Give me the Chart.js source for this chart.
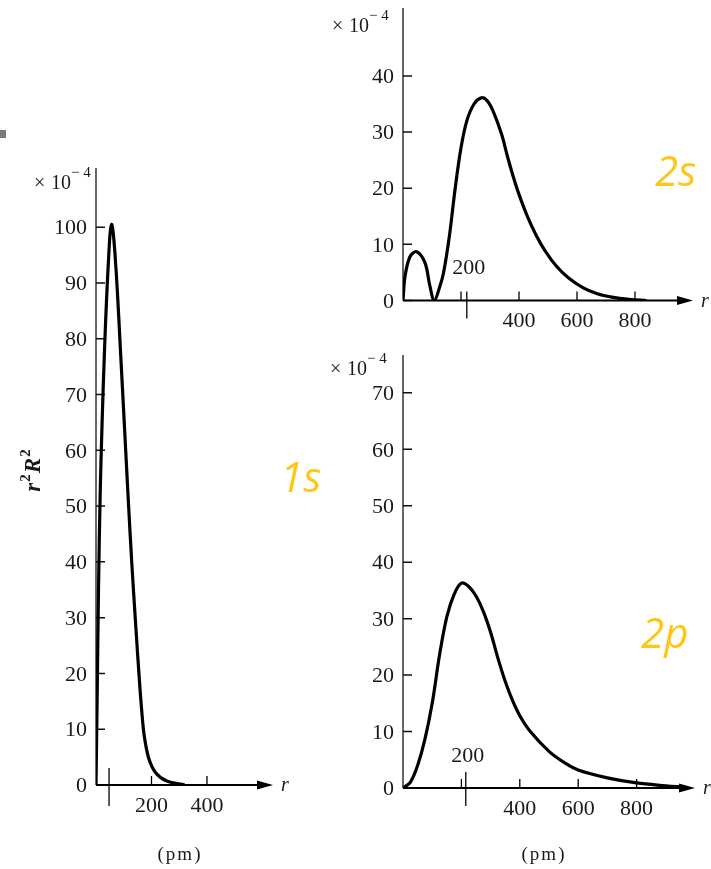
<!DOCTYPE html>
<html>
<head>
<meta charset="utf-8">
<script src="https://cdn.jsdelivr.net/npm/chart.js@4.4.0/dist/chart.umd.min.js"></script>
<style>
  body { margin: 0; background: #fff; }
  #wrap { position: relative; width: 711px; height: 869px; overflow: hidden; }
  canvas { position: absolute; left: 0; top: 0; }
  #dot { position: absolute; left: 0; top: 130px; width: 6px; height: 8px; background: #7a7a7a; }
</style>
</head>
<body>
<div id="wrap">
  <div id="dot"></div>
  <canvas id="c1s" width="711" height="869"></canvas>
  <canvas id="c2s" width="711" height="869"></canvas>
  <canvas id="c2p" width="711" height="869"></canvas>
</div>
<script>
// radial distribution r^2 R^2 (x10^-4) against r (pm)
const r1s = [0, 4, 9, 15, 22, 30, 38, 46, 52, 57, 62, 68, 77, 86.5, 96, 106.5, 117, 129, 142, 155, 165, 174, 190, 215, 255, 320];
const v1s = [0, 15, 35, 52, 65, 77, 87, 95, 99.5, 100.5, 99, 95.5, 88.5, 79.5, 70.5, 60.5, 50.5, 39.8, 29.5, 19.8, 13.2, 8.8, 4.8, 2.2, 0.7, 0];

const r2s = [0, 7, 24, 47, 76, 93, 108, 127, 140, 160, 180, 200, 220, 245, 270, 290, 310, 340, 360, 380, 400, 430, 460, 490, 530, 570, 620, 670, 720, 780, 840];
const v2s = [0, 4.3, 7.8, 8.7, 6.7, 2.5, 0, 2.5, 5, 11.5, 20, 27.2, 32, 35, 36.1, 35.6, 33.8, 29.6, 25.7, 22.1, 18.9, 14.85, 11.55, 8.85, 6.05, 4.05, 2.3, 1.2, 0.6, 0.2, 0];

const r2p = [0, 25, 50, 75, 100, 125, 150, 175, 200, 225, 250, 275, 300, 325, 350, 375, 400, 436, 500, 550, 600, 700, 800, 900, 960];
const v2p = [0, 1, 4, 8.6, 15, 23.5, 30.3, 34.3, 36.3, 35.7, 34, 31.3, 27.6, 23, 18.9, 15.5, 12.8, 10, 6.5, 4.6, 3.2, 1.8, 0.9, 0.4, 0.15];

// tick values and labels
const yTicks1s = [0, 10, 20, 30, 40, 50, 60, 70, 80, 90, 100];
const yTicks2s = [0, 10, 20, 30, 40];
const yTicks2p = [0, 10, 20, 30, 40, 50, 60, 70];
const xTicks1s = [200, 400];
const xTicks2 = [200, 400, 600, 800];
const xLabelsBelow1s = [200, 400];
const xLabelsBelow2 = [400, 600, 800];
const xLabelAbove2 = [200];

const SERIF = '"Liberation Serif", "DejaVu Serif", serif';

const deco = {
  id: 'deco',
  beforeDatasetsDraw(chart, args, o) {
    const {ctx, scales: {x, y}} = chart;
    const x0 = x.getPixelForValue(0), y0 = y.getPixelForValue(0);
    ctx.save();
    // vertical axis
    ctx.strokeStyle = '#333';
    ctx.lineWidth = 1.5;
    ctx.beginPath();
    ctx.moveTo(x0, y.top);
    ctx.lineTo(x0, y0);
    ctx.stroke();
    // y tick marks (inside)
    ctx.strokeStyle = '#111';
    ctx.beginPath();
    o.yTicks.forEach(v => {
      const py = y.getPixelForValue(v);
      ctx.moveTo(x0, py);
      ctx.lineTo(x0 + 9, py);
    });
    ctx.stroke();
    // horizontal axis with arrow
    ctx.lineWidth = 2.2;
    ctx.strokeStyle = '#000';
    ctx.beginPath();
    ctx.moveTo(x0, y0);
    ctx.lineTo(x.right - 10, y0);
    ctx.stroke();
    ctx.fillStyle = '#000';
    ctx.beginPath();
    ctx.moveTo(x.right, y0);
    ctx.lineTo(x.right - 16, y0 - 4.5);
    ctx.lineTo(x.right - 16, y0 + 4.5);
    ctx.closePath();
    ctx.fill();
    // x tick marks
    ctx.lineWidth = 1.3;
    ctx.beginPath();
    o.xTicks.forEach(v => {
      const px = x.getPixelForValue(v);
      ctx.moveTo(px, y0);
      ctx.lineTo(px, y0 - 9);
    });
    const pl = x.getPixelForValue(o.longTick);
    ctx.moveTo(pl, y0 - o.longUp);
    ctx.lineTo(pl, y0 + o.longDown);
    ctx.stroke();
    ctx.restore();
  },
  afterDatasetsDraw(chart, args, o) {
    const {ctx, scales: {x, y}} = chart;
    const x0 = x.getPixelForValue(0), y0 = y.getPixelForValue(0);
    ctx.save();
    ctx.fillStyle = '#1a1a1a';
    ctx.font = '22px ' + SERIF;
    ctx.textAlign = 'right';
    ctx.textBaseline = 'middle';
    o.yTicks.forEach(v => ctx.fillText(String(v), x0 - 9, y.getPixelForValue(v) + 1.5));
    ctx.textAlign = 'center';
    o.below.forEach(v => ctx.fillText(String(v), x.getPixelForValue(v), y0 + 21));
    o.above.forEach(v => ctx.fillText(String(v), x.getPixelForValue(o.longTick) + 2, y0 - 32));
    // multiplier
    ctx.textAlign = 'left';
    ctx.textBaseline = 'alphabetic';
    const mx = x0 - o.multX, my = y.top + o.multY;
    ctx.font = '20px ' + SERIF;
    ctx.fillText('\u00d7', mx, my);
    ctx.fillText('10', mx + 17, my);
    ctx.font = '15px ' + SERIF;
    ctx.fillText('\u2212 4', mx + 37, my - 12);
    // r at arrow
    ctx.font = 'italic 20px ' + SERIF;
    ctx.textBaseline = 'middle';
    ctx.fillText('r', x.right + 8, y0 + 1);
    // (pm)
    if (o.pmX) {
      ctx.font = '19px ' + SERIF;
      ctx.textAlign = 'center';
      ctx.letterSpacing = '2px';
      ctx.fillText('(pm)', o.pmX, 855);
      ctx.letterSpacing = '0px';
    }
    // y title
    if (o.yTitle) {
      ctx.save();
      ctx.translate(40, 470);
      ctx.rotate(-Math.PI / 2);
      ctx.textAlign = 'left';
      ctx.textBaseline = 'alphabetic';
      const parts = [['r', 'bold italic 23px ' + SERIF, 0], ['2', 'bold 15px ' + SERIF, -10],
                     ['R', 'bold italic 23px ' + SERIF, 0], ['2', 'bold 15px ' + SERIF, -10]];
      let w = 0;
      parts.forEach(p => { ctx.font = p[1]; w += ctx.measureText(p[0]).width + 1; });
      let cx = -w / 2;
      parts.forEach(p => { ctx.font = p[1]; ctx.fillText(p[0], cx, p[2]); cx += ctx.measureText(p[0]).width + 1; });
      ctx.restore();
    }
    // orbital name
    ctx.font = 'italic 42px "Open Sans", "Noto Sans", sans-serif';
    ctx.fillStyle = '#ffc61a';
    ctx.textAlign = 'left';
    ctx.textBaseline = 'alphabetic';
    ctx.fillText(o.name, o.nameX, o.nameY);
    ctx.restore();
  }
};

function makeChart(id, rs, vs, xMax, yMax, pad, deco_opts) {
  return new Chart(document.getElementById(id), {
    type: 'line',
    data: {
      datasets: [{
        data: rs.map((r, i) => ({x: r, y: vs[i]})),
        borderColor: '#000',
        borderWidth: 3.2,
        pointRadius: 0,
        fill: false,
        tension: 0.35
      }]
    },
    options: {
      responsive: false,
      animation: false,
      layout: {padding: pad},
      scales: {
        x: {type: 'linear', min: 0, max: xMax, display: false},
        y: {type: 'linear', min: 0, max: yMax, display: false}
      },
      plugins: {legend: {display: false}, tooltip: {enabled: false}, deco: deco_opts}
    },
    plugins: [deco]
  });
}

makeChart('c1s', r1s, v1s, 638, 110.6, {left: 96, right: 438, top: 168, bottom: 84}, {
  yTicks: yTicks1s, xTicks: xTicks1s, longTick: 47, longUp: 17, longDown: 21,
  below: xLabelsBelow1s, above: [], multX: 62, multY: 21, pmX: 180,
  yTitle: true, name: '1s', nameX: 280, nameY: 492
});

makeChart('c2s', r2s, v2s, 1000, 52.1, {left: 403, right: 18, top: 8, bottom: 568.5}, {
  yTicks: yTicks2s, xTicks: xTicks2, longTick: 220, longUp: 9, longDown: 18,
  below: xLabelsBelow2, above: xLabelAbove2, multX: 71, multY: 24, pmX: 0,
  yTitle: false, name: '2s', nameX: 655, nameY: 186
});

makeChart('c2p', r2p, v2p, 1000, 76.7, {left: 403, right: 16, top: 355, bottom: 81}, {
  yTicks: yTicks2p, xTicks: xTicks2, longTick: 215, longUp: 16, longDown: 18,
  below: xLabelsBelow2, above: xLabelAbove2, multX: 73, multY: 20, pmX: 544,
  yTitle: false, name: '2p', nameX: 641, nameY: 648
});
</script>
</body>
</html>
